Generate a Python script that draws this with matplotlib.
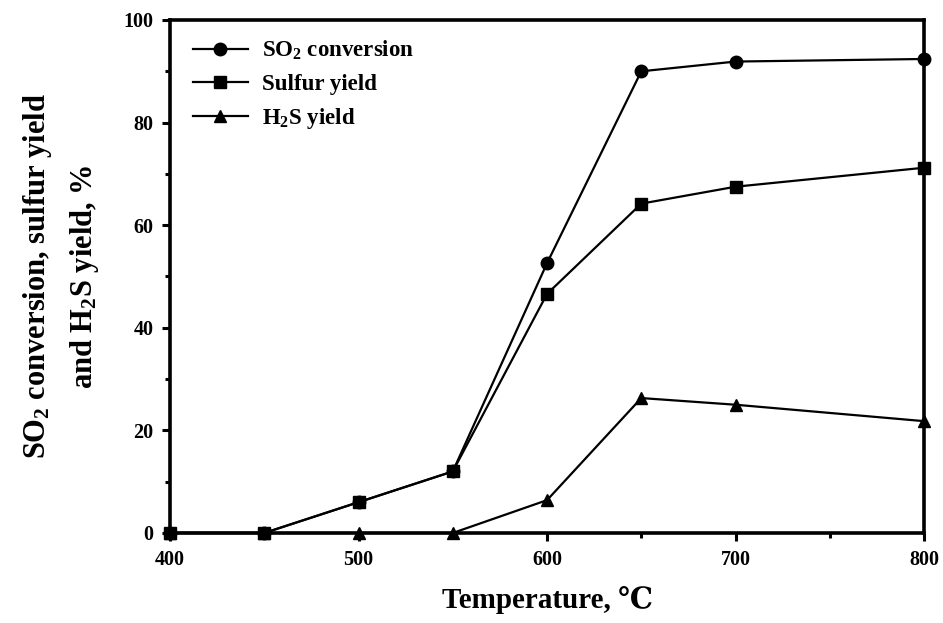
import matplotlib
matplotlib.use("Agg")
import matplotlib.pyplot as plt
from matplotlib.ticker import MultipleLocator

# --- data ---
temperature = [400, 450, 500, 550, 600, 650, 700, 800]
so2_conversion = [0, 0, 6.0, 12.0, 52.6, 90.0, 91.9, 92.4]
sulfur_yield = [0, 0, 6.0, 12.0, 46.6, 64.2, 67.5, 71.2]
h2s_yield = [0, 0, 0, 0, 6.4, 26.3, 25.0, 21.8]

x_ticks = [400, 500, 600, 700, 800]
y_ticks = [0, 20, 40, 60, 80, 100]

plt.rcParams["font.family"] = ["Liberation Serif", "DejaVu Serif"]
plt.rcParams["font.weight"] = "bold"
plt.rcParams["mathtext.default"] = "regular"

fig = plt.figure(figsize=(9.43, 6.23), dpi=100)
ax = fig.add_axes([0.1803, 0.1445, 0.7996, 0.8234])

ax.plot(temperature, so2_conversion, color="black", linewidth=1.6, marker="o",
        markersize=9, clip_on=False, zorder=3, label="SO$_2$ conversion")
ax.plot(temperature, sulfur_yield, color="black", linewidth=1.6, marker="s",
        markersize=8, clip_on=False, zorder=4, label="Sulfur yield")
ax.plot(temperature, h2s_yield, color="black", linewidth=1.6, marker="^",
        markersize=9, clip_on=False, zorder=2, label="H$_2$S yield")

# === axes styling ===
ax.set_xlim(400, 800)
ax.set_ylim(0, 100)
ax.set_xticks(x_ticks)
ax.set_yticks(y_ticks)
ax.xaxis.set_minor_locator(MultipleLocator(50))
ax.yaxis.set_minor_locator(MultipleLocator(10))
ax.tick_params(which="major", direction="out", length=6, width=2.2, labelsize=14.5, pad=6)
ax.tick_params(which="minor", direction="out", length=3.5, width=2.2)
for lbl in ax.get_xticklabels() + ax.get_yticklabels():
    lbl.set_fontweight("bold")
for s in ax.spines.values():
    s.set_linewidth(2.6)

ax.set_xlabel("Temperature, ℃", fontsize=21, fontweight="bold", labelpad=12)
ax.set_ylabel("SO$_2$ conversion, sulfur yield\nand H$_2$S yield, %", fontsize=22,
              fontweight="bold", labelpad=16, linespacing=1.6)

leg = ax.legend(loc="upper left", frameon=False, fontsize=16.5, handlelength=2.4,
                handletextpad=0.6, borderaxespad=0.6, labelspacing=0.5,
                bbox_to_anchor=(0.0, 1.008))
for t in leg.get_texts():
    t.set_fontweight("bold")

fig.savefig("out.png", dpi=100)
